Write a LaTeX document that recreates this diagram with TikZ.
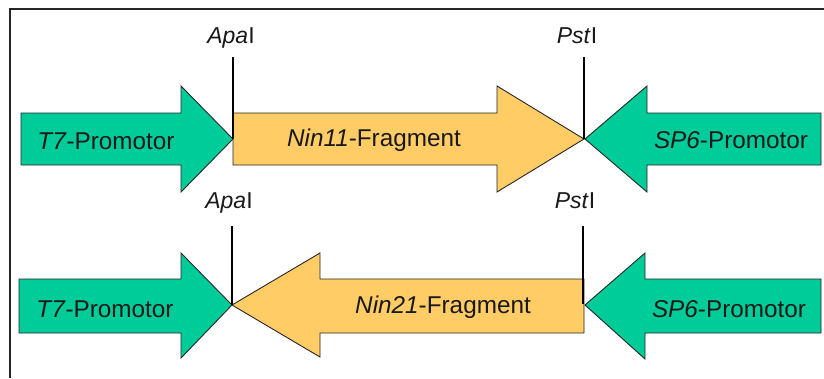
\documentclass[tikz,border=0pt]{standalone}
\usepackage{fontspec}
\setmainfont{Liberation Sans}
\definecolor{promgreen}{RGB}{0,204,153}
\definecolor{fragorange}{RGB}{255,204,102}
\begin{document}
\begin{tikzpicture}[x=1pt,y=-1pt,
  promoter/.style={fill=promgreen,draw=black!85,line width=0.9pt,line join=miter},
  fragment/.style={fill=fragorange,draw=black!85,line width=0.9pt,line join=miter},
  lbl/.style={anchor=base,inner sep=0pt,font=\fontsize{24.3}{27}\selectfont,text=black!90},
  site/.style={anchor=base,inner sep=0pt,font=\fontsize{23}{25}\selectfont,text=black!90},
  cut/.style={line width=2.6pt,black}]
\useasboundingbox (0,0) rectangle (824,378);
% frame
\draw[line width=1.4pt,black!85] (10,378) -- (10,9) -- (824,9);
% ---- top row ----
\draw[promoter] (21,113) -- (181,113) -- (181,86) -- (233,139) -- (181,192) -- (181,165) -- (21,165) -- cycle;
\draw[fragment] (233,113) -- (497,113) -- (497,86) -- (584,139) -- (497,192) -- (497,165) -- (233,165) -- cycle;
\draw[promoter] (821,113) -- (647,113) -- (647,86) -- (585,139) -- (647,192) -- (647,165) -- (821,165) -- cycle;
\node[lbl] (t7a) at (106,149) {\textit{T7}-Promotor};
\node[lbl] (nin11) at (374,146) {\textit{Nin11}-Fragment};
\node[lbl] (sp6a) at (731,148) {\textit{SP6}-Promotor};
\node[site] (apa1) at (231,43) {\textit{Apa}I};
\node[site] (pst1) at (577,43) {\textit{Pst}I};
\coordinate (apa1top) at (233,57);
\coordinate (apa1bot) at (233,139);
\coordinate (pst1top) at (584,57);
\coordinate (pst1bot) at (584,139);
\draw[cut] (apa1top) -- (apa1bot);
\draw[cut] (pst1top) -- (pst1bot);
% ---- bottom row ----
\draw[promoter] (19,279) -- (181,279) -- (181,253) -- (232,305) -- (181,358) -- (181,333) -- (19,333) -- cycle;
\draw[fragment] (584,279) -- (320,279) -- (320,253) -- (232,305) -- (320,357) -- (320,333) -- (584,333) -- cycle;
\draw[promoter] (821,279) -- (645,279) -- (645,253) -- (585,305) -- (645,359) -- (645,333) -- (821,333) -- cycle;
\node[lbl] (t7b) at (105,317) {\textit{T7}-Promotor};
\node[lbl] (nin21) at (443,313) {\textit{Nin21}-Fragment};
\node[lbl] (sp6b) at (729,317) {\textit{SP6}-Promotor};
\node[site] (apa2) at (229,208) {\textit{Apa}I};
\node[site] (pst2) at (575,208) {\textit{Pst}I};
\coordinate (apa2top) at (232,226);
\coordinate (apa2bot) at (232,305);
\coordinate (pst2top) at (583,226);
\coordinate (pst2bot) at (583,304);
\draw[cut] (apa2top) -- (apa2bot);
\draw[cut] (pst2top) -- (pst2bot);
\end{tikzpicture}
\end{document}
